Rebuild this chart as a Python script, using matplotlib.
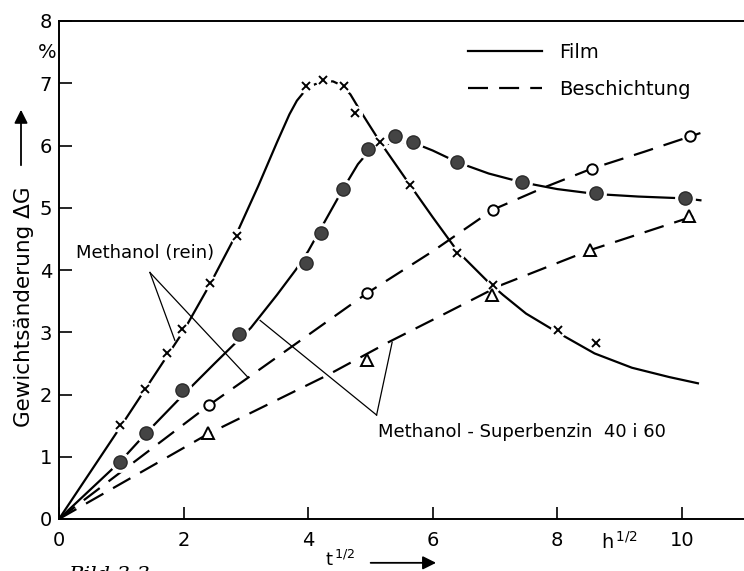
import matplotlib.pyplot as plt
from matplotlib.lines import Line2D

plt.rcParams['font.family'] = ['DejaVu Sans']

# Messpunkte
# Methanol (rein), Film  -> Kreuze
rein_film_x = [0.98, 1.38, 1.74, 1.98, 2.43, 2.86, 3.96, 4.24, 4.57, 4.76, 5.16, 5.64, 6.39, 6.97, 8.01, 8.62]
rein_film_y = [1.51, 2.09, 2.66, 3.05, 3.79, 4.55, 6.95, 7.05, 6.95, 6.53, 6.05, 5.36, 4.27, 3.76, 3.03, 2.82]
# Methanol-Superbenzin, Film -> gefuellte Kreise
sb_film_x = [0.98, 1.39, 1.98, 2.89, 3.97, 4.20, 4.56, 4.97, 5.40, 5.69, 6.39, 7.43, 8.63, 10.06]
sb_film_y = [0.92, 1.38, 2.07, 2.97, 4.11, 4.59, 5.30, 5.95, 6.16, 6.05, 5.73, 5.41, 5.23, 5.16]
# Methanol (rein), Beschichtung -> offene Kreise
rein_besch_x = [2.41, 4.95, 6.97, 8.56, 10.14]
rein_besch_y = [1.83, 3.63, 4.97, 5.63, 6.16]
# Methanol-Superbenzin, Beschichtung -> Dreiecke
sb_besch_x = [2.39, 4.95, 6.95, 8.53, 10.11]
sb_besch_y = [1.38, 2.55, 3.60, 4.32, 4.86]

rein_film_cx = [0, 1.0, 2.0, 2.43, 2.86, 3.2, 3.5, 3.7, 3.82, 3.95, 4.1, 4.25, 4.4, 4.55, 4.68,
                4.8, 4.95, 5.16, 5.64, 6.0, 6.4, 6.9, 7.13, 7.5, 8.0, 8.6, 9.2, 9.8, 10.26]
rein_film_cy = [0, 1.5, 3.02, 3.78, 4.6, 5.35, 6.05, 6.5, 6.72, 6.88, 6.98, 7.03, 7.03, 6.96, 6.82,
                6.62, 6.38, 6.05, 5.36, 4.85, 4.3, 3.8, 3.6, 3.3, 3.0, 2.66, 2.43, 2.28, 2.18]
sb_film_cx = [0, 0.98, 1.4, 2.0, 2.5, 3.08, 3.5, 3.8, 4.0, 4.28, 4.56, 4.8, 4.97, 5.15, 5.4, 5.7,
              6.0, 6.4, 6.9, 7.43, 8.0, 8.63, 9.3, 10.06, 10.3]
sb_film_cy = [0, 0.92, 1.38, 2.0, 2.5, 3.07, 3.6, 4.0, 4.3, 4.8, 5.3, 5.7, 5.9, 6.0, 6.05, 6.04,
              5.92, 5.73, 5.55, 5.41, 5.3, 5.22, 5.18, 5.15, 5.12]
rein_besch_cx = [0, 2.41, 3.05, 4.95, 6.0, 6.97, 7.8, 8.56, 9.4, 10.3]
rein_besch_cy = [0, 1.83, 2.28, 3.63, 4.3, 4.97, 5.33, 5.63, 5.9, 6.2]
sb_besch_cx = [0, 2.4, 4.31, 5.29, 6.2, 7.08, 8.53, 10.3]
sb_besch_cy = [0, 1.37, 2.31, 2.84, 3.3, 3.75, 4.32, 4.9]

x_ticks = [0, 2, 4, 6, 8, 10]
y_ticks = [0, 1, 2, 3, 4, 5, 6, 7, 8]

# Beschriftungen mit Zeigerlinien
rein_label = 'Methanol (rein)'
rein_label_pos = (0.27, 4.27)
rein_vertex = (1.46, 3.96)
rein_targets = [(1.86, 2.87), (3.03, 2.28)]
sb_label = 'Methanol - Superbenzin  40 i 60'
sb_label_pos = (5.12, 1.40)
sb_vertex = (5.10, 1.67)
sb_targets = [(3.23, 3.19), (5.35, 2.84)]

fig = plt.figure(figsize=(7.44, 5.71), dpi=100)
ax = fig.add_axes([59 / 744, 1 - 519 / 571, (744 - 59) / 744, (519 - 21) / 571])

lw = 1.6
dash = (9, 5)
# Kurven
ax.plot(rein_film_cx, rein_film_cy, color='k', lw=lw, zorder=2)
ax.plot(sb_film_cx, sb_film_cy, color='k', lw=lw, zorder=2)
ax.plot(rein_besch_cx, rein_besch_cy, color='k', lw=lw, dashes=dash, zorder=2)
ax.plot(sb_besch_cx, sb_besch_cy, color='k', lw=lw, dashes=dash, zorder=2)

# Marker (weisser Hof unterbricht die Linie wie im Original)
ax.plot(rein_film_x, rein_film_y, 'o', ms=10, color='white', zorder=3)
ax.plot(rein_film_x, rein_film_y, 'x', ms=6, mew=1.4, color='k', zorder=4)
ax.plot(sb_film_x, sb_film_y, 'o', ms=14, color='white', zorder=3)
ax.plot(sb_film_x, sb_film_y, 'o', ms=9.5, mfc='#444444', mec='#2a2a2a', mew=1, zorder=4)
ax.plot(rein_besch_x, rein_besch_y, 'o', ms=7.5, mfc='white', mec='k', mew=1.4, zorder=4)
ax.plot(sb_besch_x, sb_besch_y, '^', ms=9, mfc='white', mec='k', mew=1.4, zorder=4)

# Zeigerlinien
for (vx, vy), targets in [(rein_vertex, rein_targets), (sb_vertex, sb_targets)]:
    for tx, ty in targets:
        ax.plot([vx, tx], [vy, ty], color='k', lw=0.9, zorder=1)
ax.text(rein_label_pos[0], rein_label_pos[1], rein_label, fontsize=13, ha='left', va='center')
ax.text(sb_label_pos[0], sb_label_pos[1], sb_label, fontsize=13, ha='left', va='center')

# Achsen
ax.set_xlim(0, 11)
ax.set_ylim(0, 8)
ax.set_xticks(x_ticks)
ax.set_yticks(y_ticks)
ax.tick_params(direction='in', length=9, width=1.2, labelsize=14)
ax.tick_params(axis='x', pad=9)
ax.tick_params(axis='y', pad=5)
ax.spines['right'].set_visible(False)
for s in ['left', 'bottom', 'top']:
    ax.spines[s].set_linewidth(1.4)

ax.text(-0.19, 7.5, '%', fontsize=14, ha='center', va='center', clip_on=False)
ax.text(9.0, -0.046, r'h$^{\,1/2}$', fontsize=14, ha='center', va='center',
        transform=ax.get_xaxis_transform())

# x-Beschriftung mit Pfeil
ax.text(4.51, -0.082, r't$^{\,1/2}$', fontsize=13, ha='center', va='center',
        transform=ax.get_xaxis_transform())
ax.annotate('', xy=(6.1, -0.088), xytext=(4.96, -0.088), xycoords=ax.get_xaxis_transform(),
            arrowprops=dict(arrowstyle='-|>', color='k', lw=1.3, mutation_scale=20),
            annotation_clip=False)

# y-Beschriftung mit Pfeil
fig.text(24 / 744, 1 - 307 / 571, 'Gewichtsänderung ΔG', rotation=90, fontsize=15.5,
         ha='center', va='center')
ax.annotate('', xy=(21 / 744, 1 - 107 / 571), xytext=(21 / 744, 1 - 168 / 571),
            xycoords='figure fraction',
            arrowprops=dict(arrowstyle='-|>', color='k', lw=1.3, mutation_scale=20),
            annotation_clip=False)

# Legende
handles = [Line2D([], [], color='k', lw=lw),
           Line2D([], [], color='k', lw=lw, dashes=dash)]
ax.legend(handles, ['Film', 'Beschichtung'], loc='upper left', frameon=False, fontsize=14,
          handlelength=3.8, handletextpad=0.9, labelspacing=0.95, borderpad=0,
          bbox_to_anchor=(458 / 744, 1 - 33 / 571), bbox_transform=fig.transFigure)

# abgeschnittene Bildunterschrift
fig.text(68 / 744, 1 - 566 / 571, 'Bild 3.3', fontsize=15, style='italic',
         family='DejaVu Serif', ha='left', va='top')

fig.savefig('out.png', dpi=100)
